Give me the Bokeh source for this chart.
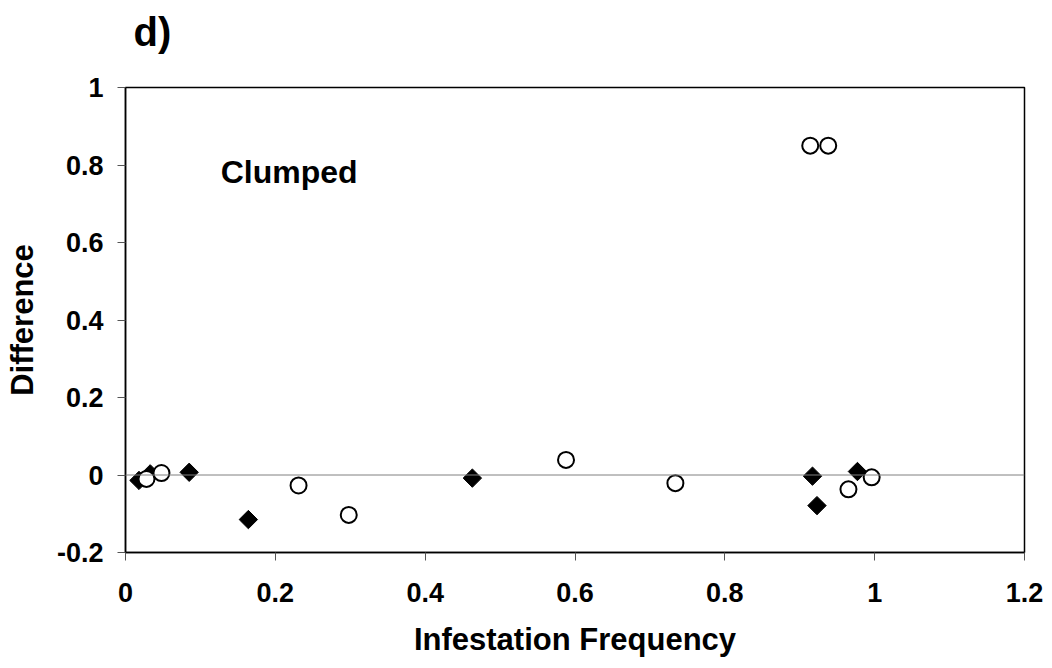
from bokeh.plotting import figure
from bokeh.models import FixedTicker, Span, Label, ColumnDataSource, Title
from bokeh.embed import file_html
from bokeh.resources import INLINE

# Data
diamond_x = [0.018, 0.033, 0.085, 0.164, 0.463, 0.917, 0.923, 0.977]
diamond_y = [-0.014, 0.003, 0.007, -0.115, -0.008, -0.003, -0.079, 0.009]
circle_x = [0.028, 0.048, 0.231, 0.298, 0.588, 0.734, 0.914, 0.938, 0.965, 0.996]
circle_y = [-0.010, 0.005, -0.027, -0.103, 0.039, -0.021, 0.850, 0.850, -0.037, -0.006]
x_ticks = [0, 0.2, 0.4, 0.6, 0.8, 1.0, 1.2]
x_tick_labels = ["0", "0.2", "0.4", "0.6", "0.8", "1", "1.2"]
y_ticks = [-0.2, 0, 0.2, 0.4, 0.6, 0.8, 1.0]
y_tick_labels = ["-0.2", "0", "0.2", "0.4", "0.6", "0.8", "1"]

FONT = "Liberation Sans"

p = figure(width=1052, height=668, x_range=(0, 1.2), y_range=(-0.2, 1.0),
           output_backend="svg", toolbar_location=None, title="d)",
           min_border_left=125, min_border_right=28, min_border_top=87, min_border_bottom=116)
p.grid.visible = False
p.outline_line_color = "black"
p.outline_line_width = 1.5
p.background_fill_color = "white"
p.border_fill_color = "white"

p.title.text_font = FONT
p.title.text_font_style = "bold"
p.title.text_font_size = "40px"
p.title.text_color = "black"
p.title.align = "left"
p.title.offset = 8
p.title.standoff = 0

# invisible spacer between the panel letter and the frame
p.add_layout(Title(text=" ", text_font_size="20px", standoff=10), "above")

for ax in (p.xaxis[0], p.yaxis[0]):
    ax.axis_line_color = "black"
    ax.axis_line_width = 1.5
    ax.major_tick_out = 8
    ax.major_tick_in = 0
    ax.major_tick_line_color = "#555555"
    ax.minor_tick_line_color = None
    ax.major_label_text_font = FONT
    ax.major_label_text_font_style = "bold"
    ax.major_label_text_font_size = "27px"
    ax.major_label_text_color = "black"
    ax.axis_label_text_font = FONT
    ax.axis_label_text_font_style = "bold"
    ax.axis_label_text_font_size = "31px"
    ax.axis_label_text_color = "black"

p.xaxis.ticker = FixedTicker(ticks=x_ticks)
p.xaxis.major_label_overrides = {t: l for t, l in zip(x_ticks, x_tick_labels)}
p.yaxis.ticker = FixedTicker(ticks=y_ticks)
p.yaxis.major_label_overrides = {t: l for t, l in zip(y_ticks, y_tick_labels)}
p.xaxis.axis_label = "Infestation Frequency"
p.yaxis.axis_label = "Difference"
p.xaxis.major_label_standoff = 22
p.xaxis.axis_label_standoff = 17
p.yaxis.major_label_standoff = 14
p.yaxis.axis_label_standoff = 14

p.add_layout(Span(location=0, dimension="width", line_color="#808080", line_width=1))

dsrc = ColumnDataSource(dict(x=diamond_x, y=diamond_y))
csrc = ColumnDataSource(dict(x=circle_x, y=circle_y))
p.scatter("x", "y", source=dsrc, marker="square", angle=0.785398, size=13,
          fill_color="black", line_color="black", line_width=1)
p.scatter("x", "y", source=csrc, marker="circle", size=16,
          fill_color="white", line_color="black", line_width=2)

p.add_layout(Label(x=0.127, y=0.781, text="Clumped", text_font=FONT, text_font_style="bold",
                   text_font_size="32px", text_color="black", text_baseline="alphabetic"))

open("out.html", "w").write(file_html(p, INLINE))
